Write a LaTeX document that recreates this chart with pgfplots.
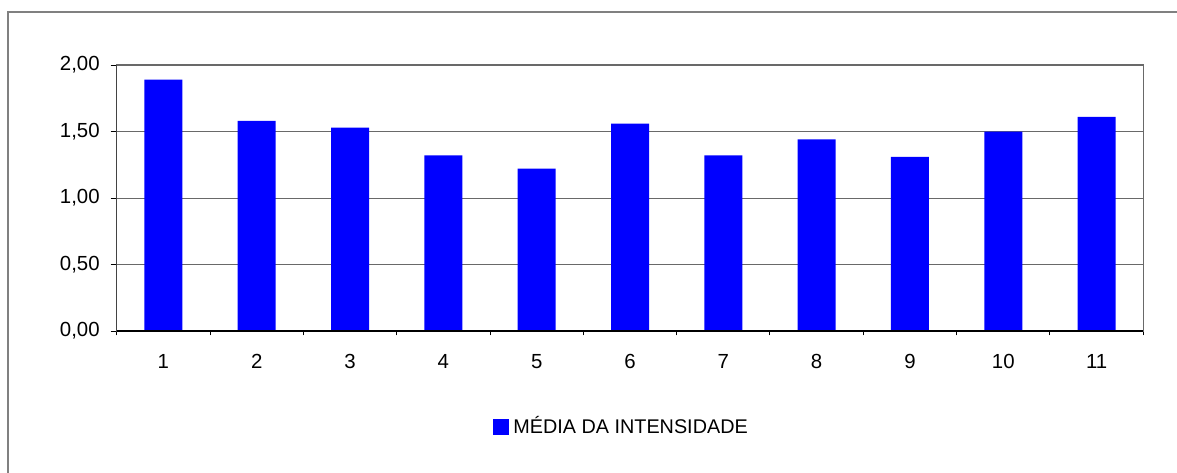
\documentclass[border=0pt]{standalone}
\usepackage{fontspec}
\setmainfont{Liberation Sans}
\usepackage{pgfplots}
\pgfplotsset{compat=1.18}
\definecolor{framegray}{RGB}{128,128,128}
\definecolor{gridgray}{RGB}{105,105,105}
\definecolor{barblue}{RGB}{0,0,255}

\begin{document}
\begin{tikzpicture}[font=\fontsize{10.2}{12}\selectfont]
% page size: 588.5pt x 236pt, plot box lower-left corner at the origin
\useasboundingbox (-58.35pt,-70.5pt) rectangle (530.15pt,165.5pt);
% outer chart frame
\draw[framegray, line width=0.75pt] (-54.35pt,-90pt) -- (-54.35pt,159.5pt) -- (560pt,159.5pt);
\begin{axis}[
  name=main,
  at={(0pt,0pt)}, anchor=south west,
  scale only axis,
  width=513.3pt, height=133pt,
  ybar, bar width=19pt,
  xmin=0.5, xmax=11.5,
  ymin=0, ymax=2,
  xtick={1,...,11},
  minor xtick={0.5,1.5,...,11.5},
  ytick={0,0.5,1,1.5,2},
  xtick pos=bottom, ytick pos=left,
  ymajorgrids,
  grid style={gridgray, line width=0.5pt},
  major x tick style={draw=none},
  tick align=outside,
  major tick length=3pt,
  minor tick length=2.2pt,
  tick style={black, line width=0.5pt},
  axis line style={gridgray, line width=0.6pt},
  yticklabel style={/pgf/number format/.cd, fixed, fixed zerofill, precision=2, use comma, assume math mode=true},
  xticklabel style={/pgf/number format/assume math mode=true},
  yticklabel shift=2pt,
  xticklabel shift=5pt,
  legend style={
    at={(axis description cs:0.3666,-0.357)}, anchor=west,
    draw=none, inner sep=0pt, fill=none,
    font=\fontsize{9.9}{12}\selectfont,
    /tikz/every even column/.append style={column sep=0pt},
  },
  legend image code/.code={
    \fill[barblue] (0pt,-4.5pt) rectangle (8pt,3.5pt);
  },
]
\addplot[fill=barblue, draw=none] coordinates {
  (1,1.89) (2,1.58) (3,1.53) (4,1.32) (5,1.22) (6,1.56)
  (7,1.32) (8,1.44) (9,1.31) (10,1.50) (11,1.61)
};
\addlegendentry{MÉDIA DA INTENSIDADE}
% value and category axes in black
\draw[black, line width=0.6pt] (rel axis cs:0,1) -- (rel axis cs:0,0) -- (rel axis cs:1,0);
\end{axis}
\end{tikzpicture}
\end{document}
